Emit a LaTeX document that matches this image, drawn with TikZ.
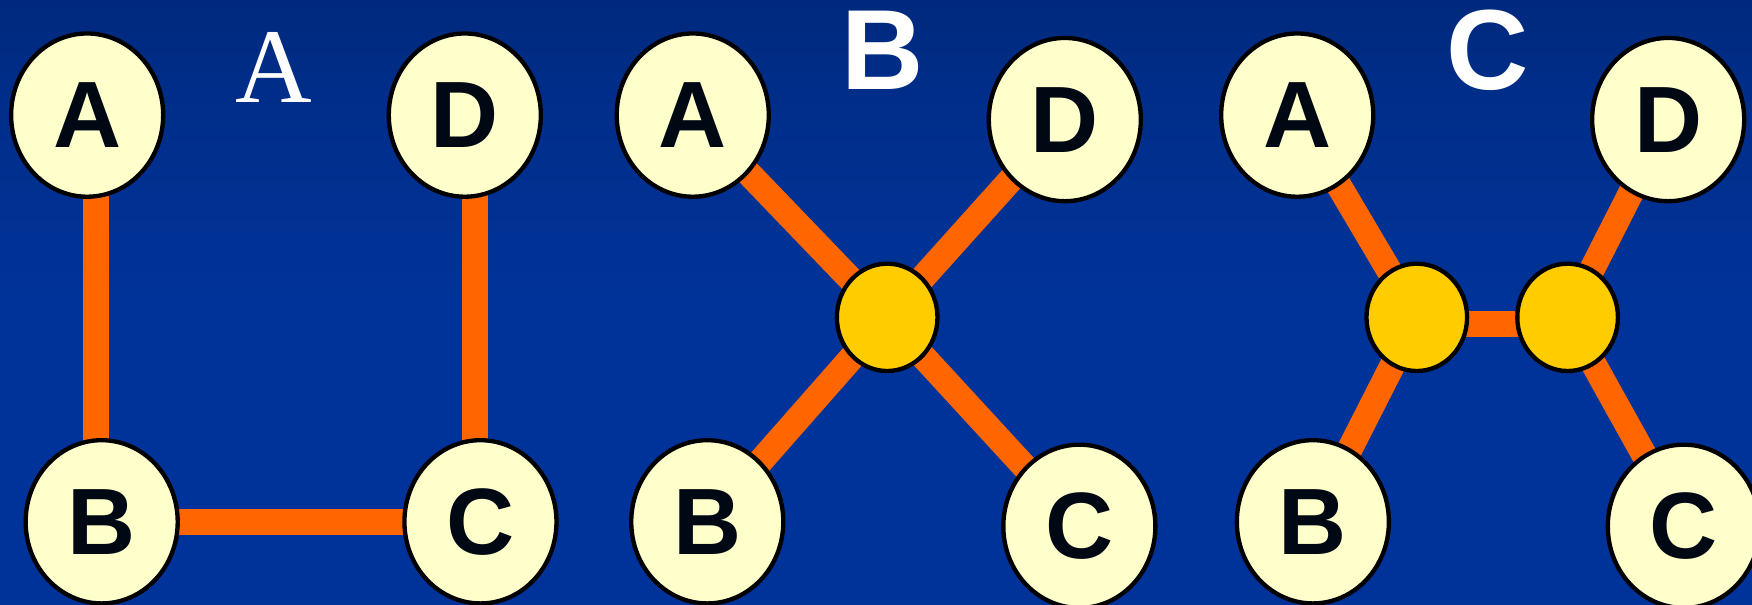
\documentclass[tikz,border=0pt]{standalone}
\usepackage{fontspec}
\setmainfont{Liberation Sans}
\newfontfamily\seriffont{Liberation Serif}
\usetikzlibrary{shapes.geometric,calc}
\pgfdeclarelayer{back}
\pgfdeclarelayer{bars}
\pgfsetlayers{back,bars,main}
\definecolor{nodefill}{HTML}{FFFFCC}
\definecolor{hubfill}{HTML}{FFCC00}
\definecolor{barcol}{HTML}{FF6600}
\definecolor{bgtop}{HTML}{001A55}
\definecolor{bgup}{HTML}{002268}
\definecolor{bgmid}{HTML}{002D88}
\definecolor{bgbot}{HTML}{003399}
\definecolor{ink}{HTML}{000814}
\pgfdeclareverticalshading{bgshade}{100bp}{color(0bp)=(bgbot); color(50bp)=(bgbot); color(68bp)=(bgmid); color(88bp)=(bgup); color(100bp)=(bgtop)}
\begin{document}
\begin{tikzpicture}[x=0.01cm,y=-0.01cm,
  letter/.style={ellipse,draw=black,line width=1.1pt,fill=nodefill,minimum width=1.36cm,minimum height=1.46cm,inner sep=0pt,text=ink,font=\fontsize{24}{24}\selectfont\bfseries},
  hub/.style={ellipse,draw=black,line width=1.1pt,fill=hubfill,minimum width=0.9cm,minimum height=0.96cm,inner sep=0pt},
  bar/.style={draw=barcol,line width=6.5pt},
  title/.style={text=white,inner sep=0pt,font=\fontsize{29}{29}\selectfont\bfseries}]
\begin{pgfonlayer}{back}
\shade[shading=bgshade] (0,0) rectangle (1568,541);
\end{pgfonlayer}
\useasboundingbox (0,0) rectangle (1568,541);
% titles
\node[text=white,inner sep=0pt,font=\seriffont\fontsize{27}{27}\selectfont] (tA) at (245,60) {A};
\node[title] (tB) at (790,45) {B};
\node[title] (tC) at (1331,45) {C};
% panel A
\node[letter] (pa) at (78,103) {A};
\node[letter] (pd) at (416,103) {D};
\node[letter] (pb) at (91,467) {B};
\node[letter] (pc) at (430,467) {C};
% panel B
\node[letter] (qa) at (620,103) {A};
\node[letter] (qd) at (953,107) {D};
\node[letter] (qb) at (633,467) {B};
\node[letter] (qc) at (966,471) {C};
\node[hub] (qh) at (794,284) {};
% panel C
\node[letter] (ra) at (1161,103) {A};
\node[letter] (rd) at (1493,107) {D};
\node[letter] (rb) at (1175,467) {B};
\node[letter] (rc) at (1507,471) {C};
\node[hub] (rh1) at (1268,284) {};
\node[hub] (rh2) at (1403,284) {};
\begin{pgfonlayer}{bars}
\draw[bar] ($(pa.center)+(8,0)$) -- ($(pb.center)+(-5,0)$);
\draw[bar] ($(pd.center)+(9,0)$) -- ($(pc.center)+(-5,0)$);
\draw[bar] (pb.center) -- (pc.center);
\draw[bar] (qa.center) -- (qh.center);
\draw[bar] (qd.center) -- (qh.center);
\draw[bar] (qb.center) -- (qh.center);
\draw[bar] (qc.center) -- (qh.center);
\draw[bar] (ra.center) -- (rh1.center);
\draw[bar] (rb.center) -- (rh1.center);
\draw[bar] ($(rh1.center)+(0,6)$) -- ($(rh2.center)+(0,6)$);
\draw[bar] (rd.center) -- (rh2.center);
\draw[bar] (rc.center) -- (rh2.center);
\end{pgfonlayer}
\end{tikzpicture}
\end{document}
